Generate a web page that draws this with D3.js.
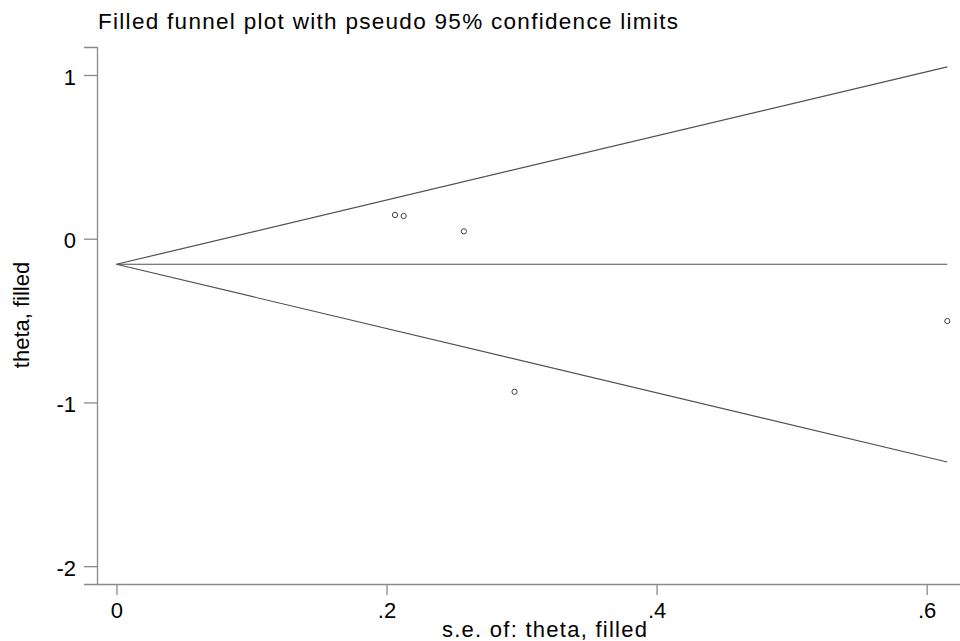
<!DOCTYPE html>
<html>
<head>
<meta charset="utf-8">
<script src="https://cdn.jsdelivr.net/npm/d3@7"></script>
<style>
  body { margin: 0; background: #fff; }
  svg text { font-family: "Liberation Sans", Arial, sans-serif; fill: #000; }
</style>
</head>
<body>
<div class="chart"></div>
<script>
// study standard errors and effects
const seValues = [0.2063, 0.2127, 0.2573, 0.2948, 0.6153]
const thetaValues = [0.145, 0.139, 0.045, -0.935, -0.503]
// pooled estimate and pseudo 95% limits at se = 0 and se = max
const funnelSe = [0, 0.6153]
const pooledLine = [-0.156, -0.156]
const upperLine = [-0.156, 1.050]
const lowerLine = [-0.156, -1.364]
const xTicks = [0, 0.2, 0.4, 0.6]
const yTicks = [1, 0, -1, -2]

const width = 960, height = 641
const margin = {top: 47, right: 0, bottom: 57, left: 97}

const svg = d3.select('.chart').append('svg')
  .attr('width', width)
  .attr('height', height)

const xScale = d3.scaleLinear()
  .domain([-0.0144, 0.6284])
  .range([margin.left, 965])

const yScale = d3.scaleLinear()
  .domain([-2.109, 1.171])
  .range([height - margin.bottom, margin.top])

const fmt = d => d === 0 ? '0' : d3.format('.1f')(d).replace(/^(-?)0\./, '$1.')

const xAxis = d3.axisBottom(xScale)
  .tickValues(xTicks)
  .tickSize(11)
  .tickPadding(6)
  .tickFormat(fmt)

const yAxis = d3.axisLeft(yScale)
  .tickValues(yTicks)
  .tickSize(13)
  .tickPadding(8)
  .tickFormat(d => String(d))

const gx = svg.append('g')
  .attr('class', 'x-axis')
  .attr('transform', `translate(0,${height - margin.bottom})`)
  .call(xAxis)
gx.select('.domain').attr('d', `M${margin.left},0.5H${width}`)

const gy = svg.append('g')
  .attr('class', 'y-axis')
  .attr('transform', `translate(${margin.left},0)`)
  .call(yAxis)

svg.selectAll('.domain, .tick line')
  .attr('stroke', '#8a8a8a')
  .attr('stroke-width', 1.3)
svg.selectAll('.tick text')
  .attr('font-size', 22)
  .attr('fill', '#000')
  .style('font-family', '"Liberation Sans", Arial, sans-serif')
gx.selectAll('.tick text').attr('dy', '0.78em')
gy.selectAll('.tick text').attr('dy', '0.42em')

// funnel lines
const line = d3.line()
  .x(d => xScale(d[0]))
  .y(d => yScale(d[1]))

const lines = [upperLine, pooledLine, lowerLine]
svg.selectAll('.funnel')
  .data(lines)
  .enter()
  .append('path')
  .attr('class', 'funnel')
  .attr('d', d => line(funnelSe.map((s, i) => [s, d[i]])))
  .attr('fill', 'none')
  .attr('stroke', '#505050')
  .attr('stroke-width', 1.2)

// study points
svg.selectAll('.pt')
  .data(seValues.map((s, i) => ({se: s, theta: thetaValues[i]})))
  .enter()
  .append('circle')
  .attr('class', 'pt')
  .attr('cx', d => xScale(d.se))
  .attr('cy', d => yScale(d.theta))
  .attr('r', 2.6)
  .attr('fill', 'none')
  .attr('stroke', '#404040')
  .attr('stroke-width', 1)

// titles
svg.append('text')
  .attr('x', 98)
  .attr('y', 29)
  .attr('font-size', 22.5)
  .attr('textLength', 580)
  .attr('lengthAdjust', 'spacing')
  .text('Filled funnel plot with pseudo 95% confidence limits')

svg.append('text')
  .attr('x', 442)
  .attr('y', 637)
  .attr('font-size', 22)
  .attr('textLength', 205)
  .attr('lengthAdjust', 'spacing')
  .text('s.e. of: theta, filled')

svg.append('text')
  .attr('transform', 'translate(29,315) rotate(-90)')
  .attr('text-anchor', 'middle')
  .attr('font-size', 22)
  .text('theta, filled')
</script>
</body>
</html>
